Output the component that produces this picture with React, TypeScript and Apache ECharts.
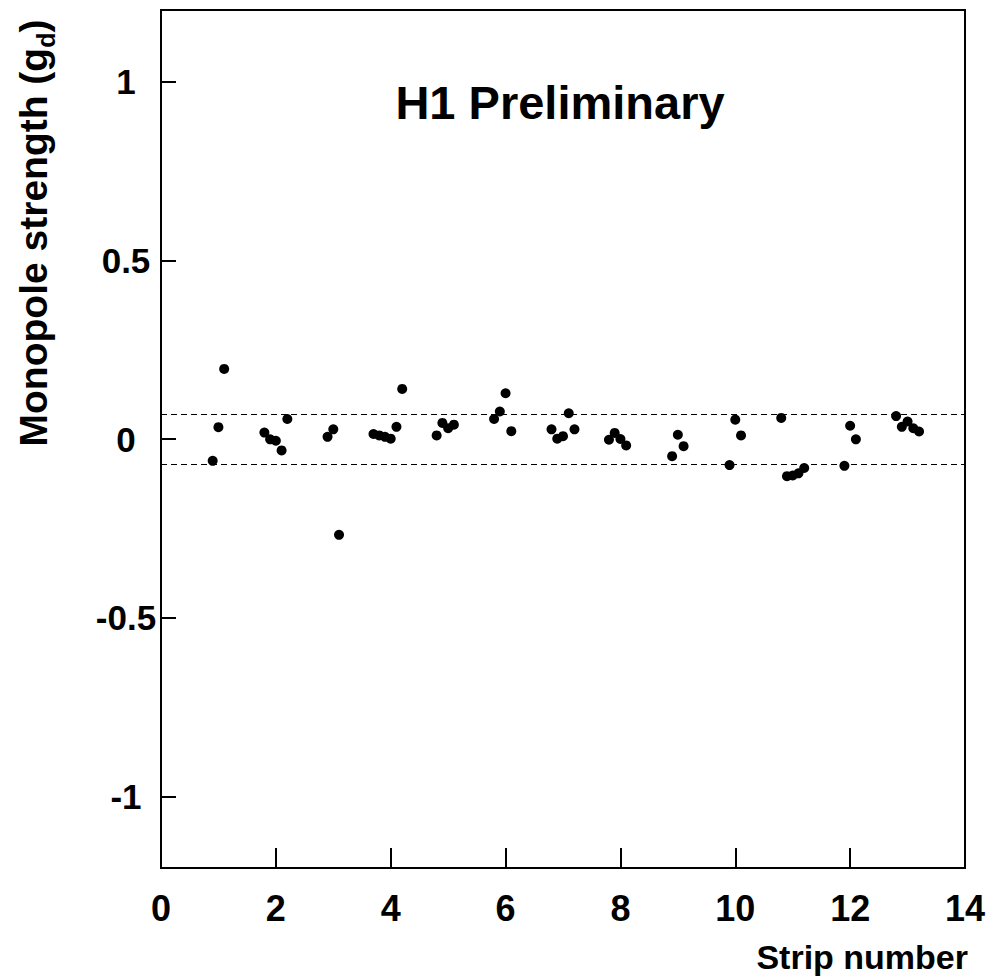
import React, { useEffect, useRef } from "react";
import * as echarts from "echarts";

const stripX: number[] = [
  0.9, 1.0, 1.1, 1.8, 1.9, 2.0, 2.1, 2.2, 2.9, 3.0, 3.1, 3.7, 3.8, 3.9, 4.0, 4.1, 4.2,
  4.8, 4.9, 5.0, 5.1, 5.8, 5.9, 6.0, 6.1, 6.8, 6.9, 7.0, 7.1, 7.2, 7.8, 7.9, 8.0, 8.1,
  8.9, 9.0, 9.1, 9.9, 10.0, 10.1, 10.8, 10.9, 11.0, 11.1, 11.2, 11.9, 12.0, 12.1,
  12.8, 12.9, 13.0, 13.1, 13.2,
];
const strength: number[] = [
  -0.061, 0.033, 0.196, 0.018, -0.001, -0.005, -0.032, 0.056, 0.006, 0.027, -0.268,
  0.014, 0.010, 0.006, 0.001, 0.034, 0.140, 0.010, 0.045, 0.030, 0.040, 0.056, 0.077,
  0.128, 0.022, 0.027, 0.001, 0.008, 0.072, 0.027, -0.002, 0.017, 0.000, -0.018,
  -0.048, 0.012, -0.020, -0.073, 0.054, 0.010, 0.059, -0.104, -0.102, -0.096, -0.081,
  -0.075, 0.037, -0.001, 0.064, 0.034, 0.049, 0.030, 0.021,
];
const bandLimits: number[] = [0.07, -0.07];
const yTicks: number[] = [-1, -0.5, 0, 0.5, 1];
const xTicks: number[] = [0, 2, 4, 6, 8, 10, 12, 14];

const FONT = "'Liberation Sans', Arial, Helvetica, sans-serif";

export default function App() {
  const ref = useRef<HTMLDivElement>(null);
  useEffect(() => {
    if (!ref.current) return;
    const chart = echarts.init(ref.current, undefined, { renderer: "svg" });
    const data = stripX.map((x, i) => [x, strength[i]]);
    chart.setOption({
      animation: false,
      backgroundColor: "#fff",
      grid: {
        left: 161,
        right: 28,
        top: 10,
        bottom: 111,
        show: true,
        borderColor: "#000",
        borderWidth: 2,
        backgroundColor: "transparent",
      },
      xAxis: {
        type: "value",
        min: 0,
        max: 14,
        interval: 2,
        axisLine: { show: true, onZero: false, lineStyle: { color: "#000", width: 2 } },
        axisTick: { show: true, inside: true, length: 20, lineStyle: { color: "#000", width: 2 }, customValues: xTicks },
        axisLabel: {
          customValues: xTicks,
          color: "#000",
          fontFamily: FONT,
          fontWeight: "bold",
          fontSize: 36,
          margin: 22,
          showMinLabel: true,
          showMaxLabel: true,
        },
        splitLine: { show: false },
      },
      yAxis: {
        type: "value",
        min: -1.2,
        max: 1.2,
        axisLine: { show: true, onZero: false, lineStyle: { color: "#000", width: 2 } },
        axisTick: { show: true, inside: true, length: 15, lineStyle: { color: "#000", width: 2 }, customValues: yTicks },
        axisLabel: {
          customValues: yTicks,
          color: "#000",
          fontFamily: FONT,
          fontWeight: "bold",
          fontSize: 35,
          align: "center",
          margin: 35,
          formatter: (v: number) => String(v),
        },
        splitLine: { show: false },
      },
      graphic: [
        {
          type: "text",
          x: 560,
          y: 102,
          style: {
            text: "H1 Preliminary",
            fill: "#000",
            font: `bold 47px ${FONT}`,
            textAlign: "center",
            textVerticalAlign: "middle",
          },
        },
        {
          type: "text",
          x: 968,
          y: 957,
          style: {
            text: "Strip number",
            fill: "#000",
            font: `bold 34px ${FONT}`,
            textAlign: "right",
            textVerticalAlign: "middle",
          },
        },
        {
          type: "text",
          x: 33,
          y: 233,
          rotation: Math.PI / 2,
          style: {
            text: "Monopole strength ({sub|g}{d|d})",
            fill: "#000",
            font: `bold 39px ${FONT}`,
            textAlign: "center",
            textVerticalAlign: "middle",
            rich: {
              sub: { font: `bold 39px ${FONT}`, fill: "#000" },
              d: { font: `bold 25px ${FONT}`, fill: "#000", padding: [26, 0, 0, 0] },
            },
          },
        },
      ],
      series: [
        {
          type: "scatter",
          data,
          symbol: "circle",
          symbolSize: 10,
          itemStyle: { color: "#000", opacity: 1 },
          markLine: {
            silent: true,
            symbol: ["none", "none"],
            label: { show: false },
            lineStyle: { color: "#000", width: 1, type: [6, 4] },
            data: bandLimits.map((v) => ({ yAxis: v })),
          },
        },
      ],
    });
    return () => chart.dispose();
  }, []);
  return (
    <div
      ref={ref}
      style={{ position: "absolute", left: 0, top: 0, width: 993, height: 979 }}
    />
  );
}
